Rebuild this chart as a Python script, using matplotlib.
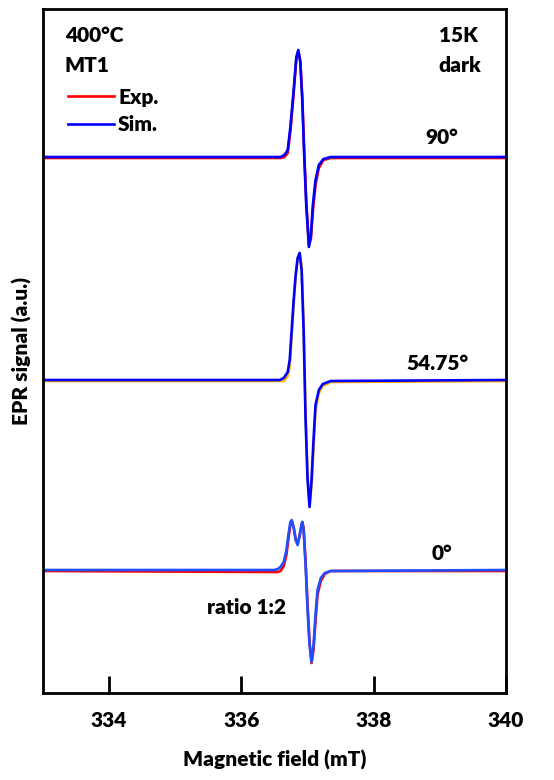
import matplotlib
matplotlib.use("Agg")
import matplotlib.pyplot as plt
from matplotlib.lines import Line2D

plt.rcParams["font.family"] = ["Lato", "DejaVu Sans"]
plt.rcParams["font.weight"] = "heavy"
plt.rcParams["axes.labelweight"] = "heavy"
plt.rcParams["font.size"] = 15

XTICKS = [334, 336, 338, 340]

# field (mT) and signal (a.u., relative to each trace's baseline)
FIELD_90 = [333.0, 336.55, 336.59, 336.65, 336.70, 336.74, 336.79, 336.83, 336.86, 336.89,
            336.92, 336.95, 336.98, 337.02, 337.05, 337.08, 337.12, 337.17, 337.24,
            337.35, 340.0]
SIM_90 = [0, 0, 0, 2, 7, 30, 67, 100, 107, 95, 57, 0, -48, -90, -78, -48, -23, -8, -2, 0, 0]
EXP_90 = [-1, -1, -1, 0, 4, 26, 64, 98, 106, 96, 60, 4, -44, -88, -82, -54, -28, -11, -3, -1, -1]

FIELD_55 = [333.0, 336.58, 336.64, 336.70, 336.73, 336.76, 336.79, 336.82, 336.85, 336.88,
            336.91, 336.94, 336.97, 337.00, 337.03, 337.06, 337.09, 337.12, 337.17,
            337.23, 337.35, 340.0]
SIM_55 = [0, 0, 2, 8, 20, 50, 80, 105, 122, 127, 110, 50, -40, -100, -127, -100, -60, -25, -10, -4, -1, 0]
EXP_55 = [-1, -1, -1, 4, 14, 44, 76, 103, 121, 127, 114, 58, -32, -94, -126, -106, -68, -31, -13, -6, -2, -1]

FIELD_0 = [333.0, 336.50, 336.55, 336.59, 336.64, 336.68, 336.71, 336.74, 336.76, 336.79,
           336.82, 336.85, 336.88, 336.91, 336.92, 336.94, 336.97, 337.00, 337.03,
           337.06, 337.09, 337.12, 337.15, 337.20, 337.26, 337.35, 340.0]
SIM_0 = [0, 0, 1, 3, 8, 20, 35, 48, 50, 42, 30, 25, 35, 46, 48, 40, 5, -40, -75,
         -92, -75, -45, -20, -8, -3, -1, 0]
EXP_0 = [-1, -2, -2, -1, 4, 15, 31, 45, 49, 43, 31, 26, 34, 45, 48, 42, 9, -35, -72,
         -93, -80, -51, -25, -11, -4, -1, -1]

OFFSETS = {"90°": 536, "54.75°": 313, "0°": 123}

fig = plt.figure(figsize=(5.54, 7.8), dpi=100)
ax = fig.add_axes([43 / 554, 87 / 780, 463 / 554, 684 / 780])

traces = [
    (FIELD_90, EXP_90, SIM_90, OFFSETS["90°"], "#ff0000", "#0000ff"),
    (FIELD_55, EXP_55, SIM_55, OFFSETS["54.75°"], "#ffb000", "#0000ff"),
    (FIELD_0, EXP_0, SIM_0, OFFSETS["0°"], "#ff0000", "#1f4fff"),
]
for xs, exp, sim, off, c_exp, c_sim in traces:
    ax.plot(xs, [v + off for v in exp], color=c_exp, linewidth=1.9)
    ax.plot(xs, [v + off for v in sim], color=c_sim, linewidth=1.9)

ax.set_xlim(333, 340)
ax.set_ylim(0, 684)
ax.set_xticks(XTICKS, labels=[str(t) for t in XTICKS], fontweight="heavy")
ax.set_yticks([])
ax.tick_params(axis="x", direction="in", length=12, width=2, pad=13, labelsize=15)
for sp in ax.spines.values():
    sp.set_linewidth(2)

ax.set_xlabel("Magnetic field (mT)", fontsize=15, labelpad=14)
ax.set_ylabel("EPR signal (a.u.)", fontsize=15, labelpad=8)

ax.text(333.33, 658, "400°C", va="center", ha="left")
ax.text(333.33, 628, "MT1", va="center", ha="left")
ax.text(338.98, 658, "15K", va="center", ha="left")
ax.text(338.98, 628, "dark", va="center", ha="left")
ax.text(339.03, 556, "90°", va="center", ha="center")
ax.text(338.97, 330, "54.75°", va="center", ha="center")
ax.text(339.03, 139, "0°", va="center", ha="center")
ax.text(336.08, 86, "ratio 1:2", va="center", ha="center")

handles = [Line2D([], [], color="#ff0000", linewidth=1.9),
           Line2D([], [], color="#0000ff", linewidth=1.9)]
ax.legend(handles, ["Exp.", "Sim."], loc="upper left", bbox_to_anchor=(0.054, 0.885),
          frameon=False, borderpad=0, borderaxespad=0, handlelength=2.2,
          handletextpad=0.2, labelspacing=0.42, fontsize=15)

fig.savefig("out.png", dpi=100)
